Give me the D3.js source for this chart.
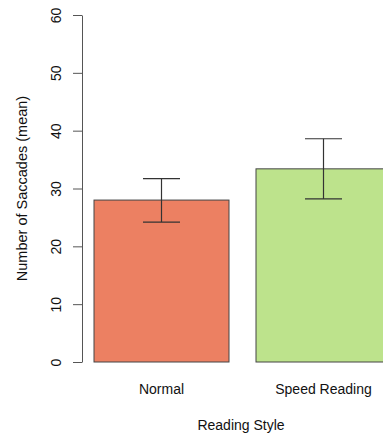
<!DOCTYPE html>
<html>
<head>
<meta charset="utf-8">
<script src="https://cdn.jsdelivr.net/npm/d3@7"></script>
<style>
  html, body { margin: 0; padding: 0; background: #fff; }
  svg text { font-family: "Liberation Sans", Arial, sans-serif; fill: #111; }
</style>
</head>
<body>
<div id="chart"></div>
<script>
// data
const categories = ["Normal", "Speed Reading"];
const means = [28.0, 33.4];
const lowerErr = [24.2, 28.2];
const upperErr = [31.7, 38.6];
const barColors = ["#ec8062", "#bde38c"];
const yTicks = [0, 10, 20, 30, 40, 50, 60];

const width = 383, height = 436;
const plotTop = 15, plotBottom = 362;
const axisX = 82;

const svg = d3.select("#chart")
  .append("svg")
  .attr("width", width)
  .attr("height", height)

const yScale = d3.scaleLinear()
  .domain([0, 60])
  .range([plotBottom, plotTop])

const xScale = d3.scaleBand()
  .domain(categories)
  .range([94, 391])
  .paddingInner(0.1667)
  .paddingOuter(0)

// bars
svg.append("g")
  .selectAll("rect")
  .data(categories)
  .join("rect")
  .attr("x", d => xScale(d))
  .attr("y", (d, i) => yScale(means[i]))
  .attr("width", xScale.bandwidth())
  .attr("height", (d, i) => yScale(0) - yScale(means[i]))
  .attr("fill", (d, i) => barColors[i])
  .attr("stroke", "#444")
  .attr("stroke-width", 1)

// error bars
const capHalf = 18.5;
const errs = svg.append("g")
  .attr("stroke", "#333")
  .attr("stroke-width", 1.2)
  .selectAll("g")
  .data(categories)
  .join("g")
  .attr("transform", d => `translate(${xScale(d) + xScale.bandwidth() / 2},0)`)

errs.append("line")
  .attr("y1", (d, i) => yScale(lowerErr[i]))
  .attr("y2", (d, i) => yScale(upperErr[i]))
errs.append("line")
  .attr("x1", -capHalf).attr("x2", capHalf)
  .attr("y1", (d, i) => yScale(upperErr[i]))
  .attr("y2", (d, i) => yScale(upperErr[i]))
errs.append("line")
  .attr("x1", -capHalf).attr("x2", capHalf)
  .attr("y1", (d, i) => yScale(lowerErr[i]))
  .attr("y2", (d, i) => yScale(lowerErr[i]))

// y axis
const yAxis = svg.append("g")
  .attr("transform", `translate(${axisX},0)`)
  .call(d3.axisLeft(yScale).tickValues(yTicks).tickSize(9).tickPadding(0).tickSizeOuter(0))

yAxis.select(".domain").attr("stroke", "#555")
yAxis.selectAll(".tick line").attr("stroke", "#555")
yAxis.selectAll(".tick text")
  .attr("x", null).attr("dy", null)
  .attr("transform", "translate(-21,0) rotate(-90)")
  .attr("text-anchor", "middle")
  .attr("font-size", 14)
  .attr("font-family", null)
  .attr("fill", "#111")

// category labels
svg.append("g")
  .selectAll("text")
  .data(categories)
  .join("text")
  .attr("x", d => xScale(d) + xScale.bandwidth() / 2)
  .attr("y", 394)
  .attr("text-anchor", "middle")
  .attr("font-size", 14)
  .text(d => d)

// axis titles
svg.append("text")
  .attr("x", 241)
  .attr("y", 430)
  .attr("text-anchor", "middle")
  .attr("font-size", 14)
  .text("Reading Style")

svg.append("text")
  .attr("transform", `translate(27,${(plotTop + plotBottom) / 2}) rotate(-90)`)
  .attr("text-anchor", "middle")
  .attr("font-size", 14.5)
  .text("Number of Saccades (mean)")
</script>
</body>
</html>
